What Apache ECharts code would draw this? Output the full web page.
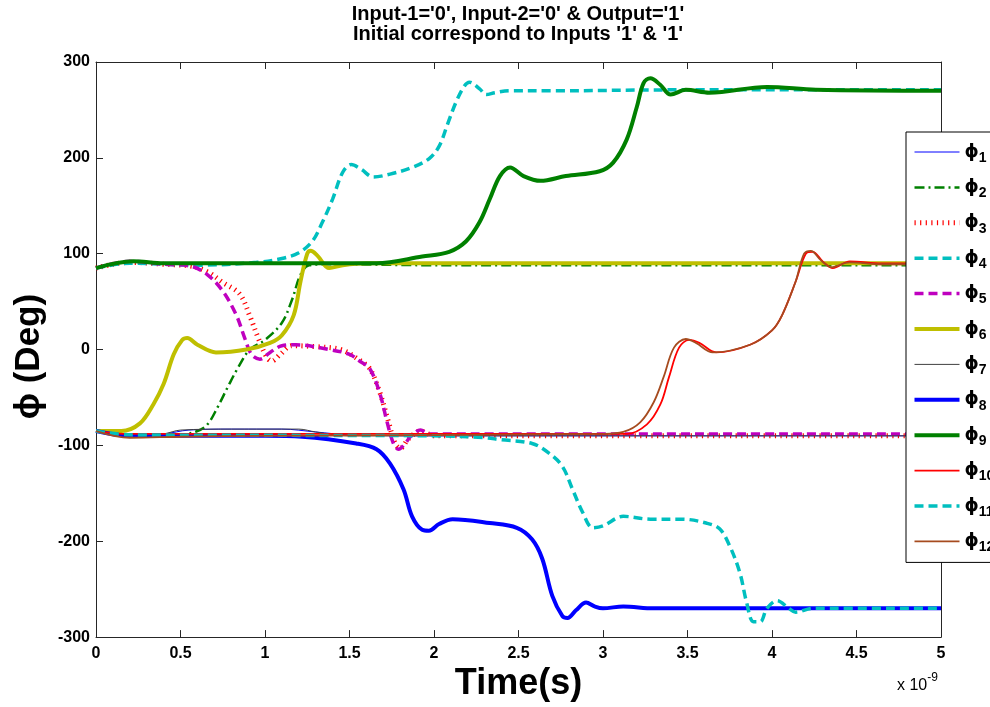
<!DOCTYPE html>
<html>
<head>
<meta charset="utf-8">
<script src="https://cdn.jsdelivr.net/npm/echarts@6/dist/echarts.min.js"></script>
<style>
  html, body { margin: 0; padding: 0; background: #fff; }
  #chart { width: 990px; height: 707px; }
</style>
</head>
<body>
<div id="chart"></div>
<script>
  // time in units of 1e-9 s, phase in degrees
  var xTicks = [0, 0.5, 1, 1.5, 2, 2.5, 3, 3.5, 4, 4.5, 5];
  var yTicks = [-300, -200, -100, 0, 100, 200, 300];

  var phi1 = [[0,-85],[0.2,-89],[0.4,-88],[0.55,-84],[0.8,-83],[1.1,-83],[1.3,-86],[1.5,-89],[2,-90],[5,-90]];
  var phi2 = [[0,-85],[0.2,-90],[0.5,-89],[0.6,-85],[0.66,-78],[0.72,-60],[0.78,-39],[0.84,-19],[0.91,0],[1.0,10],[1.1,28],[1.16,52],[1.21,78],[1.26,88],[1.4,89],[2,88],[5,88]];
  var phi3 = [[0,85],[0.2,91],[0.4,89],[0.56,87],[0.66,81],[0.75,70],[0.85,58],[0.91,35],[0.96,12],[1.01,-8],[1.04,-12],[1.09,-5],[1.16,4],[1.3,3],[1.45,0],[1.55,-10],[1.62,-20],[1.68,-45],[1.73,-75],[1.77,-98],[1.8,-103],[1.85,-93],[1.92,-85],[2.0,-90],[5,-90]];
  var phi4 = [[0,85],[0.2,90],[0.6,88],[0.95,91],[1.1,95],[1.2,101],[1.28,113],[1.34,133],[1.40,157],[1.46,185],[1.51,193],[1.57,188],[1.64,180],[1.74,183],[1.87,190],[1.97,199],[2.03,212],[2.08,235],[2.13,258],[2.18,275],[2.21,279],[2.27,272],[2.31,266],[2.36,268],[2.45,270],[2.7,270],[3.5,271],[5,271]];
  var phi5 = [[0,85],[0.2,92],[0.4,89],[0.56,87],[0.66,78],[0.75,61],[0.83,36],[0.88,12],[0.92,-5],[0.97,-10],[1.03,-3],[1.1,4],[1.18,5],[1.38,0],[1.5,-5],[1.56,-12],[1.62,-20],[1.68,-46],[1.72,-74],[1.76,-98],[1.79,-104],[1.83,-98],[1.86,-91],[1.92,-84],[1.97,-88],[5,-88]];
  var phi6 = [[0,-85],[0.15,-85],[0.26,-77],[0.34,-57],[0.40,-36],[0.46,-5],[0.51,10],[0.54,12],[0.6,5],[0.71,-3],[0.89,0],[1.03,7],[1.1,15],[1.17,36],[1.21,71],[1.25,100],[1.27,103],[1.31,98],[1.38,85],[1.46,88],[1.6,90],[5,90]];
  var phi7 = [[0,-85],[0.2,-90],[0.4,-88],[0.5,-84],[0.8,-83],[1.2,-83],[1.3,-86],[1.5,-90],[5,-90]];
  var phi8 = [[0,-85],[0.2,-90],[1.0,-90],[1.22,-91],[1.54,-98],[1.66,-104],[1.74,-119],[1.82,-146],[1.87,-174],[1.93,-188],[1.97,-189],[2.03,-182],[2.11,-177],[2.33,-181],[2.49,-186],[2.58,-198],[2.64,-218],[2.70,-257],[2.76,-278],[2.79,-280],[2.84,-272],[2.9,-264],[2.95,-268],[3.0,-270],[3.12,-268],[3.3,-270],[5,-270]];
  var phi9 = [[0,85],[0.22,92],[0.4,90],[1.66,90],[1.93,97],[2.09,102],[2.19,113],[2.27,133],[2.33,157],[2.39,181],[2.45,190],[2.53,181],[2.63,176],[2.78,181],[2.98,186],[3.06,195],[3.14,219],[3.20,253],[3.24,278],[3.28,283],[3.34,276],[3.40,266],[3.49,271],[3.63,268],[3.97,274],[4.26,271],[5,270]];
  var phi10 = [[0,-85],[0.2,-88],[3.0,-88],[3.14,-88],[3.26,-78],[3.34,-57],[3.39,-29],[3.45,2],[3.51,10],[3.57,7],[3.67,-3],[3.87,5],[4.0,20],[4.06,36],[4.14,71],[4.2,100],[4.24,102],[4.30,92],[4.36,85],[4.46,92],[4.65,90],[5,90]];
  var phi11 = [[0,-85],[0.2,-89],[2.0,-90],[2.3,-92],[2.39,-94],[2.58,-98],[2.68,-108],[2.76,-122],[2.82,-146],[2.88,-170],[2.94,-186],[3.0,-184],[3.12,-174],[3.28,-177],[3.47,-177],[3.61,-181],[3.69,-187],[3.75,-205],[3.81,-233],[3.85,-264],[3.89,-284],[3.93,-284],[3.97,-270],[4.03,-262],[4.10,-270],[4.14,-274],[4.24,-270],[5,-270]];
  var phi12 = [[0,-85],[0.2,-92],[0.5,-91],[1,-90],[3.0,-88],[3.12,-86],[3.22,-76],[3.30,-55],[3.36,-28],[3.42,2],[3.49,11],[3.55,7],[3.65,-3],[3.87,5],[4.0,20],[4.06,36],[4.14,71],[4.19,100],[4.23,103],[4.29,93],[4.35,86],[4.46,91],[4.65,89],[5,89]];

  var seriesData = [phi1, phi2, phi3, phi4, phi5, phi6, phi7, phi8, phi9, phi10, phi11, phi12];
  var seriesStyle = [
    { color: '#0000ff', width: 1 },
    { color: '#008000', width: 2.5, type: [10, 4, 2, 4] },
    { color: '#ff0000', width: 5, type: [1.2, 4.4] },
    { color: '#00bfbf', width: 3.5, type: [9, 5] },
    { color: '#bf00bf', width: 3.5, type: [9, 5] },
    { color: '#bfbf00', width: 4 },
    { color: '#404040', width: 1 },
    { color: '#0000ff', width: 4 },
    { color: '#008000', width: 4 },
    { color: '#ff0000', width: 1.8 },
    { color: '#00bfbf', width: 3.5, type: [9, 5] },
    { color: '#a64b1f', width: 1.8 }
  ];

  var font = 'Liberation Sans';
  var chart = echarts.init(document.getElementById('chart'));

  var series = seriesData.map(function (d, i) {
    var st = seriesStyle[i];
    return {
      name: 'φ' + (i + 1),
      type: 'line',
      data: d,
      symbol: 'none',
      smooth: 0.35,
      color: st.color,
      lineStyle: { color: st.color, width: st.width, type: st.type || 'solid', cap: 'butt' },
      emphasis: { disabled: true }
    };
  });

  function axisCommon() {
    return {
      axisLine: { show: true, onZero: false, lineStyle: { color: '#262626', width: 1 } },
      axisTick: { show: true, inside: true, length: 7, lineStyle: { color: '#262626' } },
      splitLine: { show: false }
    };
  }

  var option = {
    animation: false,
    backgroundColor: '#fff',
    title: {
      text: "Input-1='0', Input-2='0' & Output='1'\nInitial correspond to Inputs '1' & '1'",
      left: 518,
      top: 4,
      padding: 0,
      textAlign: 'center',
      textStyle: { fontFamily: font, fontSize: 20, fontWeight: 'bold', lineHeight: 20, color: '#000' }
    },
    grid: { left: 96, right: 49, top: 62, bottom: 65 },
    legend: {
      orient: 'vertical',
      left: 906,
      top: 132,
      padding: [11, 30, 8, 6],
      itemGap: 13.4,
      itemWidth: 45,
      itemHeight: 14,
      selectedMode: false,
      backgroundColor: '#fff',
      borderColor: '#000',
      borderWidth: 1,
      borderRadius: 0,
      itemStyle: { opacity: 0 },
      lineStyle: { width: 'inherit' },
      data: series.map(function (s) { return s.name; }),
      formatter: function (name) {
        return '{p|ϕ}{s|' + name.slice(1) + '}';
      },
      textStyle: {
        rich: {
          p: { fontFamily: 'DejaVu Sans', fontSize: 18, fontWeight: 'bold', color: '#000' },
          s: { fontFamily: font, fontSize: 14, fontWeight: 'bold', color: '#000', padding: [12, 0, 0, 0] }
        }
      }
    },
    xAxis: [
      Object.assign({
        type: 'value', position: 'bottom', min: 0, max: 5, interval: 0.5,
        name: 'Time(s)', nameLocation: 'middle', nameGap: 28,
        nameTextStyle: { fontFamily: font, fontSize: 36, fontWeight: 'bold', color: '#000' },
        axisLabel: { fontFamily: font, fontSize: 16, fontWeight: 'bold', color: '#000', margin: 8,
          formatter: function (v) { return xTicks.indexOf(v) >= 0 ? String(v) : ''; } }
      }, axisCommon()),
      Object.assign({
        type: 'value', position: 'top', min: 0, max: 5, interval: 0.5,
        axisLabel: { show: false }
      }, axisCommon())
    ],
    yAxis: [
      Object.assign({
        type: 'value', position: 'left', min: -300, max: 300, interval: 100,
        name: 'ϕ (Deg)', nameLocation: 'middle', nameGap: 48, nameRotate: 90,
        nameTextStyle: { fontFamily: font, fontSize: 35, fontWeight: 'bold', color: '#000', padding: [0, 14, 0, 0] },
        axisLabel: { fontFamily: font, fontSize: 16, fontWeight: 'bold', color: '#000', margin: 6,
          formatter: function (v) { return yTicks.indexOf(v) >= 0 ? String(v) : ''; } }
      }, axisCommon()),
      Object.assign({
        type: 'value', position: 'right', min: -300, max: 300, interval: 100,
        axisLabel: { show: false }
      }, axisCommon())
    ],
    graphic: [{
      type: 'text',
      left: 897,
      top: 672,
      style: {
        text: '{a|x 10}{b|-9}',
        rich: {
          a: { fontFamily: font, fontSize: 16, color: '#000', padding: [8, 0, 0, 0] },
          b: { fontFamily: font, fontSize: 12, color: '#000', padding: [0, 0, 8, 0] }
        }
      }
    }],
    series: series
  };

  chart.setOption(option);
</script>
</body>
</html>
